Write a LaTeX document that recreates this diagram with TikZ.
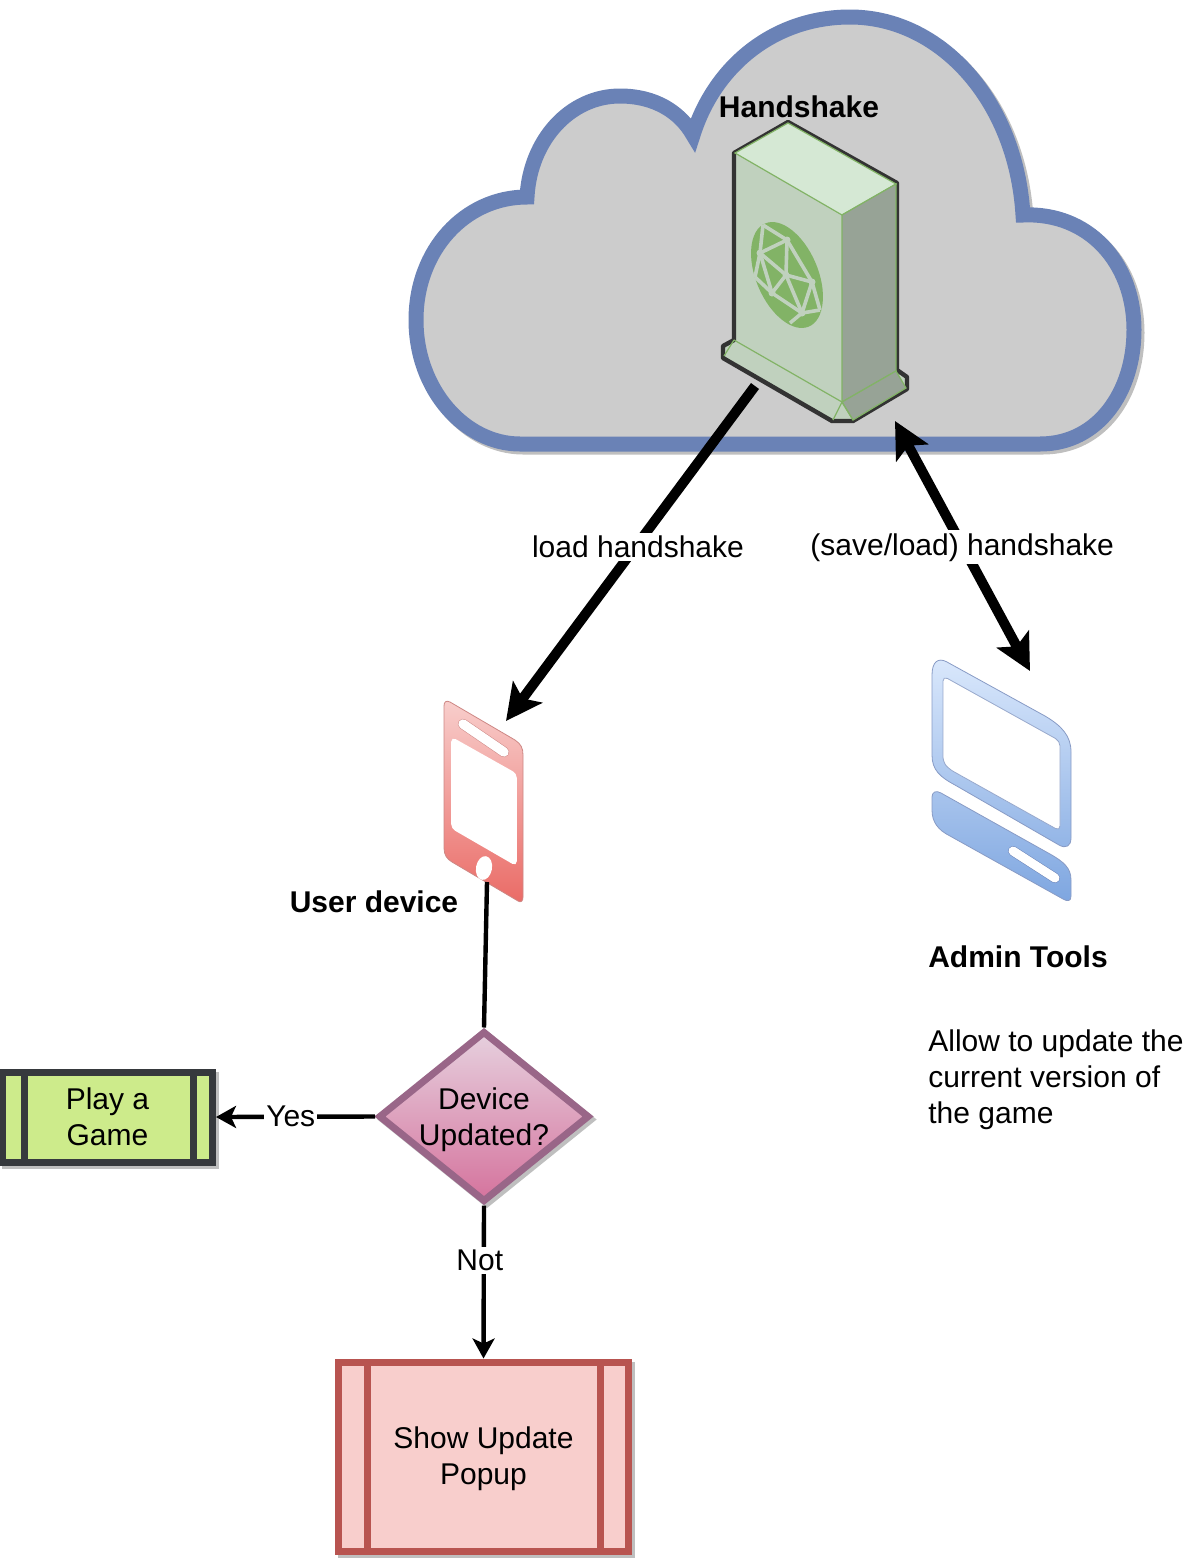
\documentclass[tikz,border=0pt]{standalone}
\usepackage{fontspec}
\setmainfont{Liberation Sans}
\usetikzlibrary{arrows.meta,shapes.geometric}
\definecolor{cloudblue}{HTML}{6A82B6}
\definecolor{servtop}{HTML}{D5E8D4}
\definecolor{servfront}{HTML}{C0D1BE}
\definecolor{servside}{HTML}{97A396}
\definecolor{servline}{HTML}{82B366}
\definecolor{darkbox}{HTML}{36393D}
\definecolor{redbox}{HTML}{B85450}
\tikzset{
  txt/.style={font=\fontsize{15}{18}\selectfont,align=center,inner sep=0pt},
  title/.style={font=\bfseries\fontsize{15}{18}\selectfont,inner sep=0pt},
  edgelabel/.style={txt,fill=white,inner xsep=1pt,inner ysep=1.5pt},
  shadowed/.style={preaction={draw=black!25,fill=black!25,transform canvas={xshift=1.5pt,yshift=-1.5pt}}},
  process/.style={txt,rectangle,shadowed,line width=3.5pt},
  bigline/.style={line width=5pt,-{Stealth[length=18pt,width=18pt,inset=4pt]}},
  smallline/.style={line width=2.2pt,-{Stealth[length=10pt,width=11pt,inset=2.5pt]}}
}
\begin{document}
\begin{tikzpicture}[x=.5pt,y=-.5pt]
\useasboundingbox (0,0) rectangle (1196,1559);
\def\cloudpath{(520,444) -- (1040,444) .. controls (1098,444) and (1134,392) .. (1134,330)
  .. controls (1134,262) and (1088,212) .. (1023,215)
  .. controls (1016,100) and (940,17) .. (850,17)
  .. controls (775,17) and (715,65) .. (693,135)
  .. controls (680,112) and (655,96) .. (620,96)
  .. controls (570,96) and (530,140) .. (527,197)
  .. controls (465,197) and (416,250) .. (416,320)
  .. controls (416,390) and (465,444) .. (520,444) -- cycle}
\draw[line width=7.5pt,draw=black!25,shift={(3,3)}] \cloudpath;
\draw[line width=7.5pt,draw=cloudblue,fill=black!20,miter limit=3] \cloudpath;

\draw[line width=2.2pt,draw=black!80,fill=servfront,line join=round]
  (788,122) -- (734,153) -- (734,340) -- (723,346) -- (723,358) -- (832,421) -- (853,421)
  -- (907,389) -- (907,377) -- (897,370) -- (897,183) -- cycle;
\draw[servline,fill=servtop,line width=.6pt] (788,123) -- (896,184) -- (842,215) -- (735,153) -- cycle;
\draw[servline,fill=servside,line width=.6pt] (842,215) -- (896,184) -- (896,371) -- (842,402) -- cycle;
\draw[servline,fill=servside,line width=.6pt] (842,402) -- (896,371) -- (906,388) -- (853,420) -- cycle;
\draw[servline,line width=.6pt] (734,340) -- (842,402) -- (833,420) (842,402) -- (853,420) (734,340) -- (724,356);
\fill[servline,rotate around={-67:(787,275)}] (787,275) ellipse [x radius=56,y radius=31];
\coordinate (na) at (763,225);
\coordinate (nb) at (787,240);
\coordinate (nc) at (760,253);
\coordinate (nd) at (786,275);
\coordinate (ne) at (812,282);
\coordinate (nf) at (772,293);
\coordinate (ng) at (802,313);
\coordinate (nh) at (820,310);
\coordinate (ni) at (790,323);
\coordinate (nj) at (755,277);
\foreach \p/\q in {na/nb,na/nc,nb/nc,nb/nd,nc/nd,nc/nf,nd/nf,nd/ne,nd/ng,nf/ng,ne/ng,ne/nh,ng/nh,ng/ni,nb/ne,nc/nj,nj/nf}
  \draw[servfront,line width=1.8pt] (\p) -- (\q);
\foreach \p in {nb,nc,nd,ne,nf,ng}
  \fill[servfront] (\p) circle (3.5);

\shade[top color={rgb,255:red,248;green,206;blue,204},bottom color={rgb,255:red,234;green,107;blue,102},draw=redbox!70,line width=.4pt]
  (444,706) .. controls (444,702) and (446,700) .. (450,702) -- (515,740)
  .. controls (521,744) and (523,748) .. (523,755) -- (523,897)
  .. controls (523,901) and (521,903) .. (518,901) -- (452,862)
  .. controls (447,859) and (444,855) .. (444,848) -- cycle;
\draw[white,fill=white,line width=.8pt,rounded corners=2pt] (452,738) -- (516,774) -- (516,865) -- (452,828) -- cycle;
\draw[line width=5.2pt,line cap=round,draw=redbox!70] (463,724) -- (504,752);
\draw[line width=4.7pt,line cap=round,white] (463,724) -- (504,752);
\fill[white,rotate around={-10:(484,868)}] (484,868) ellipse [x radius=8,y radius=12];

\shade[top color={rgb,255:red,218;green,232;blue,252},bottom color={rgb,255:red,126;green,166;blue,224},draw=cloudblue!80,line width=.4pt,even odd rule]
  (932,675) .. controls (932,662) and (938,657) .. (947,662) -- (1045,716)
  .. controls (1062,726) and (1071,736) .. (1071,752) -- (1071,838)
  .. controls (1071,846) and (1066,849) .. (1059,845) -- (955,785)
  .. controls (940,777) and (932,770) .. (932,755) -- cycle
  (932,797) .. controls (932,792) and (936,790) .. (941,793) -- (1050,854)
  .. controls (1064,862) and (1071,868) .. (1071,880) -- (1071,896)
  .. controls (1071,901) and (1068,902) .. (1063,899) -- (950,836)
  .. controls (938,830) and (932,822) .. (932,810) -- cycle;
\draw[cloudblue!70,fill=white,line width=.4pt,rounded corners=2.5pt] (943,676) -- (1060,741) -- (1060,831) -- (949,769) -- (943,762) -- cycle;
\draw[line width=5pt,line cap=round,draw=cloudblue] (1013,851) -- (1055,878);
\draw[line width=4.5pt,line cap=round,white] (1013,851) -- (1055,878);

\coordinate (serverout) at (755,386);
\coordinate (serverin) at (895,421);
\coordinate (devicein) at (506,721);
\coordinate (deviceout) at (487,882);
\coordinate (adminin) at (1030,671);

\node[txt,title] (handshake) at (799,107) {Handshake};
\node[txt,title] (userdevice) at (374,902) {User device};
\node[txt,title] (admintools) at (1018,957) {Admin Tools};
\node[txt,align=left,anchor=west] (admintext) at (928,1080) {Allow to update the\\current version of\\the game};

\node[txt,diamond,aspect=1.25,shadowed,line width=3.5pt,inner sep=-4pt,text height=32pt,minimum width=105.5pt,minimum height=85.5pt,
  draw={rgb,255:red,153;green,102;blue,136},top color={rgb,255:red,230;green,208;blue,222},bottom color={rgb,255:red,213;green,115;blue,157}]
  (updated) at (484,1116.5) {Device\\Updated?};
\node[process,minimum width=105pt,minimum height=45pt,draw=darkbox,fill={rgb,255:red,205;green,235;blue,139}]
  (play) at (107.5,1117) {Play a\\Game};
\node[process,text height=31pt,minimum width=145pt,minimum height=94.5pt,draw=redbox,fill={rgb,255:red,248;green,206;blue,204}]
  (popup) at (483.5,1456.5) {Show Update\\Popup};
\draw[line width=3.5pt,draw=darkbox] (24,1070) -- (24,1164) (193,1070) -- (193,1164);
\draw[line width=3.5pt,draw=redbox] (367,1360) -- (367,1553) (600,1360) -- (600,1553);

\draw[bigline] (serverout) -- (devicein) node[edgelabel,pos=.48,xshift=1.25pt] (loadlabel) {load handshake};
\draw[bigline,{Stealth[length=18pt,width=18pt,inset=4pt]}-{Stealth[length=18pt,width=18pt,inset=4pt]}] (serverin) -- (adminin) node[edgelabel,pos=.505,xshift=-.5pt] (savelabel) {(save/load) handshake};
\draw[line width=2.2pt] (deviceout) -- (updated.north);
\draw[smallline] (updated.west) -- (play.east) node[edgelabel,pos=.53] (yeslabel) {Yes};
\draw[smallline] (updated.south) -- (popup.north) node[edgelabel,pos=.36,xshift=-2pt] (notlabel) {Not};
\end{tikzpicture}
\end{document}
